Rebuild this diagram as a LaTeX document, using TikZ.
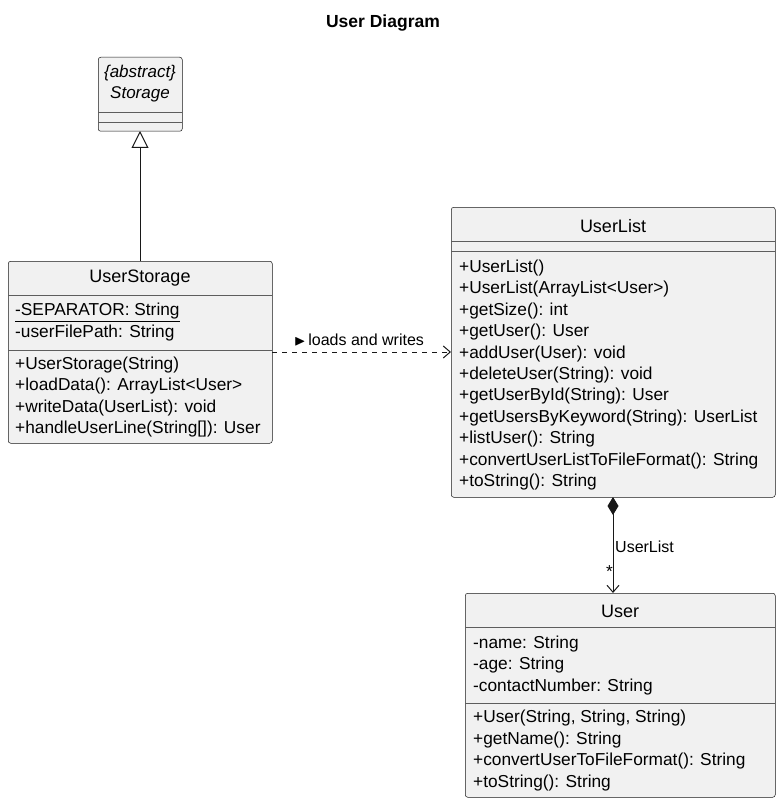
\documentclass[tikz,border=0pt]{standalone}
\usepackage{amssymb}
\usepackage{fontspec}
\setmainfont{Liberation Sans}
\usetikzlibrary{arrows.meta,shapes.geometric}
\definecolor{umlfill}{HTML}{F1F1F1}
\definecolor{umlline}{HTML}{181818}
\tikzset{
    box/.style={draw=umlline,fill=umlfill,rounded corners=2.5pt,anchor=north west,inner sep=0pt,line width=0.5pt},
    txt/.style={anchor=west,inner sep=0pt,font=\fontsize{17.3}{19}\selectfont},
    cname/.style={inner sep=0pt,font=\fontsize{18}{20}\selectfont},
    sep/.style={draw=umlline!70,line width=0.5pt},
    link/.style={umlline,line width=1pt}}
\newcommand{\umlbox}[5]{% name, x, y, w, h
    \node[box,minimum width=#4pt,minimum height=#5pt] (#1) at (#2pt,-#3pt) {};}
\begin{document}
\begin{tikzpicture}[x=1pt,y=1pt]
    \useasboundingbox (0,0) rectangle (781,-805);
    \node[font=\bfseries\fontsize{17.5}{19}\selectfont] (title) at (383,-23) {User Diagram};
    % Storage
    \umlbox{storage}{98}{57}{84}{74}
    \node[cname,align=center,font=\itshape\fontsize{17}{21}\selectfont] (storageT) at (140,-84) {\{abstract\}\\Storage};
    \draw[sep] (98,-112) -- (182,-112);
    \draw[sep] (98,-122) -- (182,-122);
    % UserStorage
    \umlbox{ustore}{8}{261}{264}{182}
    \node[cname] (ustoreT) at (140,-278) {UserStorage};
    \draw[sep] (8,-295) -- (272,-295);
    \node[txt] (us1) at (15,-313) {\underline{-SEPARATOR: String}};
    \node[txt] (us2) at (15,-333) {-userFilePath: String};
    \draw[sep] (8,-350) -- (272,-350);
    \foreach \t [count=\i] in {+UserStorage(String),+loadData(): ArrayList<User>,+writeData(UserList): void,+handleUserLine(String[]): User}
        \node[txt] (usm\i) at (15,-365-21.4*\i+21.4) {\t};
    % UserList
    \umlbox{ulist}{451}{207}{324}{290}
    \node[cname] (ulistT) at (613,-226) {UserList};
    \draw[sep] (451,-241) -- (775,-241);
    \draw[sep] (451,-251) -- (775,-251);
    \foreach \t [count=\i] in {+UserList(),+UserList(ArrayList<User>),+getSize(): int,+getUser(): User,+addUser(User): void,+deleteUser(String): void,+getUserById(String): User,+getUsersByKeyword(String): UserList,+listUser(): String,+convertUserListToFileFormat(): String,+toString(): String}
        \node[txt] (ulm\i) at (459,-268-21.4*\i+21.4) {\t};
    % User
    \umlbox{user}{465}{593}{310}{204}
    \node[cname] (userT) at (620,-611) {User};
    \draw[sep] (465,-627) -- (775,-627);
    \foreach \t [count=\i] in {-name: String,-age: String,-contactNumber: String}
        \node[txt] (ua\i) at (473,-644-21.5*\i+21.5) {\t};
    \draw[sep] (465,-703) -- (775,-703);
    \foreach \t [count=\i] in {{+User(String, String, String)},+getName(): String,+convertUserToFileFormat(): String,+toString(): String}
        \node[txt] (um\i) at (473,-718-21.7*\i+21.7) {\t};
    % connectors
    \coordinate (usTop) at (140,-261);
    \coordinate (stBot) at (140,-131);
    \draw[link,-{Triangle[open,length=17pt,width=17pt]}] (usTop) -- (stBot);
    \coordinate (usR) at (272,-352);
    \coordinate (ulL) at (451,-352);
    \draw[link,dash pattern=on 5pt off 5pt,-{Straight Barb[length=7pt,width=12pt]}] (usR) -- (ulL);
    \node[txt] (dep) at (294,-340) {\fontsize{15}{16}\selectfont$\blacktriangleright$\,\fontsize{16}{18}\selectfont loads and writes};
    \coordinate (ulB) at (613,-497);
    \coordinate (uT) at (613,-593);
    \draw[link,{Diamond[length=18pt,width=11pt]}-{Straight Barb[length=7pt,width=12pt]}] (ulB) -- (uT);
    \node[txt,font=\fontsize{16}{18}\selectfont] (compL) at (615,-547) {UserList};
    \node[txt] (compM) at (606,-572) {*};
\end{tikzpicture}
\end{document}
